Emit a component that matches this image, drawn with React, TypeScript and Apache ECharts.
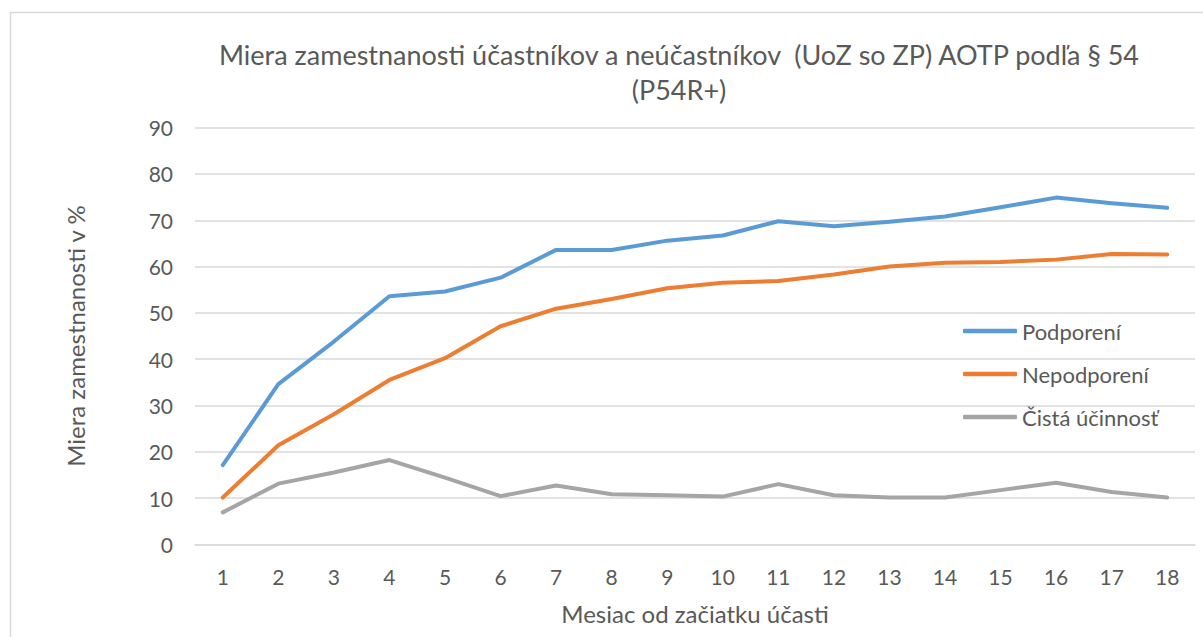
import React, { useEffect, useRef } from "react";
import * as echarts from "echarts";

const months = ["1","2","3","4","5","6","7","8","9","10","11","12","13","14","15","16","17","18"];
const podporeni = [17.1, 34.6, 43.8, 53.6, 54.6, 57.6, 63.6, 63.6, 65.6, 66.7, 69.8, 68.7, 69.7, 70.8, 72.8, 74.9, 73.7, 72.7];
const nepodporeni = [10.1, 21.4, 28.1, 35.5, 40.2, 47.1, 50.9, 53.0, 55.3, 56.5, 56.9, 58.3, 60.0, 60.8, 61.0, 61.5, 62.7, 62.6];
const cistaUcinnost = [6.9, 13.1, 15.5, 18.2, 14.4, 10.4, 12.7, 10.8, 10.6, 10.3, 13.0, 10.6, 10.1, 10.1, 11.7, 13.3, 11.3, 10.1];

const titleText = "Miera zamestnanosti účastníkov a neúčastníkov  (UoZ so ZP) AOTP podľa § 54\n(P54R+)";
const xName = "Mesiac od začiatku účasti";
const yName = "Miera zamestnanosti v %";

const FONT = "Lato, 'Open Sans', sans-serif";
const TXT = "#595959";

export default function App() {
  const ref = useRef<HTMLDivElement>(null);
  useEffect(() => {
    if (!ref.current) return;
    const chart = echarts.init(ref.current, null, { renderer: "svg" });
    const mk = (name: string, data: number[], color: string) => ({
      name,
      type: "line",
      data,
      symbol: "none",
      smooth: false,
      lineStyle: { color, width: 4, cap: "round", join: "round" },
      itemStyle: { color },
    });
    chart.setOption({
      animation: false,
      backgroundColor: "#ffffff",
      textStyle: { fontFamily: FONT },
      graphic: [
        {
          type: "rect",
          shape: { x: 10.5, y: 12.5, width: 1300, height: 800 },
          style: { fill: "none", stroke: "#d9d9d9", lineWidth: 1.5 },
          silent: true,
        },
      ],
      title: {
        text: titleText,
        left: 674,
        top: 32,
        textAlign: "center",
        textStyle: {
          fontFamily: FONT,
          fontSize: 27,
          fontWeight: "normal",
          color: TXT,
          lineHeight: 35,
        },
      },
      grid: { left: 195, right: 8, top: 127.7, bottom: 92.7, containLabel: false },
      legend: {
        orient: "vertical",
        left: 958,
        top: 315,
        icon: "roundRect",
        itemWidth: 54,
        itemHeight: 4.5,
        itemGap: 21,
        textStyle: { fontFamily: FONT, fontSize: 22, lineHeight: 22, color: TXT, padding: [0, 0, 0, 0] },
        data: ["Podporení", "Nepodporení", "Čistá účinnosť"],
      },
      xAxis: {
        type: "category",
        data: months,
        boundaryGap: true,
        name: xName,
        nameLocation: "middle",
        nameGap: 57,
        nameTextStyle: { fontFamily: FONT, fontSize: 24, color: TXT },
        axisLine: { show: true, lineStyle: { color: "#d9d9d9", width: 1.5 } },
        axisTick: { show: false },
        axisLabel: { fontFamily: FONT, fontSize: 21, color: TXT, margin: 22 },
      },
      yAxis: {
        type: "value",
        min: 0,
        max: 90,
        interval: 10,
        name: yName,
        nameLocation: "middle",
        nameGap: 108,
        nameTextStyle: { fontFamily: FONT, fontSize: 24, color: TXT },
        axisLine: { show: false },
        axisTick: { show: false },
        axisLabel: { fontFamily: FONT, fontSize: 21, color: TXT, margin: 22 },
        splitLine: { lineStyle: { color: "#d9d9d9", width: 1.5 } },
      },
      series: [
        mk("Podporení", podporeni, "#5B9BD5"),
        mk("Nepodporení", nepodporeni, "#ED7D31"),
        mk("Čistá účinnosť", cistaUcinnost, "#A5A5A5"),
      ],
    });
    return () => chart.dispose();
  }, []);
  return (
    <div
      ref={ref}
      style={{ position: "absolute", left: 0, top: 0, width: 1203, height: 637 }}
    />
  );
}
